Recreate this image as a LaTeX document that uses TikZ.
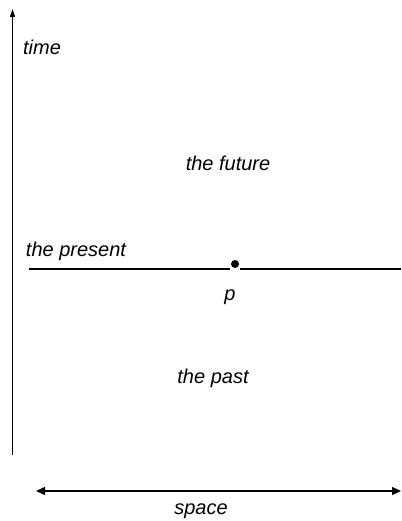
\documentclass[tikz,border=0pt]{standalone}
\usepackage{fontspec}
\setmainfont{Liberation Sans}
\usetikzlibrary{arrows.meta}
\begin{document}
\begin{tikzpicture}[x=1pt,y=-1pt,
  lbl/.style={font=\itshape\fontsize{20}{24}\selectfont, inner sep=0pt},
  ln/.style={line width=1.3pt},
  tip/.style={-{Triangle[length=8pt,width=5pt]}}]
\useasboundingbox (0,0) rectangle (401,521);
\coordinate (tbot) at (12.5,455);
\coordinate (ttop) at (12.5,9);
\draw[ln,tip] (tbot) -- (ttop);
\node[lbl] (time) at (42,47) {time};
\node[lbl] (future) at (228,163) {the future};
\node[lbl] (present) at (76,251) {the present};
\node[circle,fill=black,inner sep=0pt,minimum size=8pt] (p) at (235,264) {};
\coordinate (l1) at (29,269);
\coordinate (l2) at (230,269);
\coordinate (r1) at (240,269);
\coordinate (r2) at (401,269);
\draw[ln] (l1) -- (l2);
\draw[ln] (r1) -- (r2);
\node[lbl] (plabel) at (230,297) {p};
\node[lbl] (past) at (213,378) {the past};
\coordinate (sl) at (36,491);
\coordinate (sr) at (401,491);
\draw[ln,{Triangle[length=9pt,width=8pt]}-{Triangle[length=9pt,width=8pt]}] (sl) -- (sr);
\node[lbl] (space) at (201,511) {space};
\end{tikzpicture}
\end{document}
